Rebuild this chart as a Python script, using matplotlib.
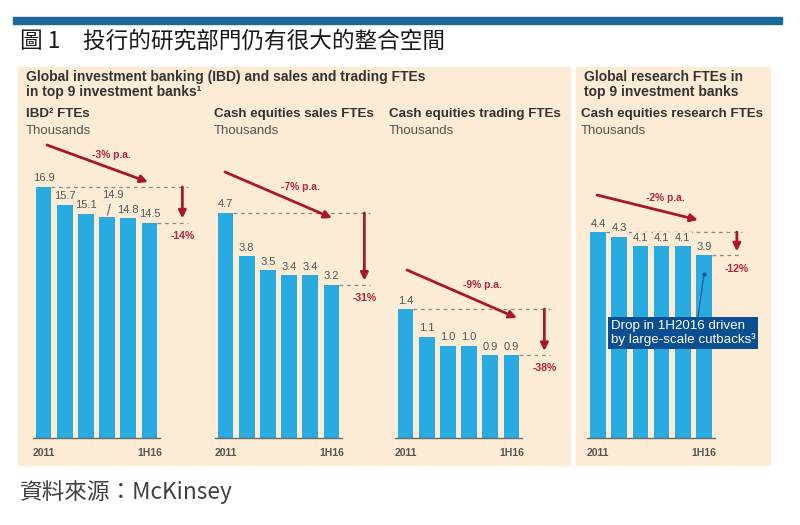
import matplotlib.pyplot as plt
from matplotlib.patches import Rectangle, FancyArrowPatch

# ---- data ----
periods = ['2011', '2012', '2013', '2014', '2015', '1H16']
ibd_ftes = [16.9, 15.7, 15.1, 14.9, 14.8, 14.5]
sales_ftes = [4.7, 3.8, 3.5, 3.4, 3.4, 3.2]
trading_ftes = [1.4, 1.1, 1.0, 1.0, 0.9, 0.9]
research_ftes = [4.4, 4.3, 4.1, 4.1, 4.1, 3.9]
cagr_labels = ['-3% p.a.', '-7% p.a.', '-9% p.a.', '-2% p.a.']
change_labels = ['-14%', '-31%', '-38%', '-12%']
chart_titles = ['IBD² FTEs', 'Cash equities sales FTEs',
                'Cash equities trading FTEs', 'Cash equities research FTEs']
series = [ibd_ftes, sales_ftes, trading_ftes, research_ftes]

# ---- style ----
W, H = 800, 525
BEIGE = '#fcebd5'
BAR = '#29aae1'
RED = '#a8182c'
RED_TXT = '#b3263a'
DARK = '#333333'
GREY = '#555555'
LATIN = ['Liberation Sans', 'DejaVu Sans']
CJK = ['Noto Sans CJK TC', 'DejaVu Sans']

plt.rcParams['font.family'] = LATIN


def fx(x):
    return x / W


def fy(y):
    return 1 - y / H


fig = plt.figure(figsize=(8, 5.25), dpi=100)
fig.patch.set_facecolor('white')

# top rule and panels (pixel boxes, y measured from the top)
for (x0, y0, x1, y1, c) in [(13, 17, 782, 24, '#1b6a9a'),
                            (18, 67, 570, 465, BEIGE),
                            (576, 67, 770, 465, BEIGE)]:
    fig.patches.append(Rectangle((fx(x0), fy(y1)), fx(x1 - x0), (y1 - y0) / H,
                                 transform=fig.transFigure, color=c, zorder=-5))

fig.text(fx(20), fy(41), '圖 1　投行的研究部門仍有很大的整合空間', family=CJK,
         fontsize=16.3, fontweight='medium', color='#1a1a1a', va='center', ha='left')
fig.text(fx(20), fy(492), '資料來源：McKinsey', family=CJK,
         fontsize=16.3, color='#404040', va='center', ha='left')

fig.text(fx(26), fy(70), 'Global investment banking (IBD) and sales and trading FTEs\n'
         'in top 9 investment banks¹', fontsize=10, fontweight='bold', color=DARK,
         va='top', ha='left', linespacing=1.1)
fig.text(fx(584), fy(70), 'Global research FTEs in\ntop 9 investment banks',
         fontsize=10, fontweight='bold', color=DARK, va='top', ha='left',
         linespacing=1.1)

# per chart layout: first bar centre px, px per thousand, title x, trend arrow px, label px
DX = 21.2
layout = [
    dict(c0=43.5, ppu=14.86, tx=26, arrow=((47, 145), (148, 182)), lab=(111, 155)),
    dict(c0=225.5, ppu=47.9, tx=214, arrow=((225, 172), (332, 218)), lab=(300, 187)),
    dict(c0=405.5, ppu=92.1, tx=389, arrow=((407, 270), (517, 318)), lab=(482, 285)),
    dict(c0=598.0, ppu=46.8, tx=581, arrow=((597, 195), (698, 220)), lab=(665, 198)),
]
# raised labels with a leader stroke: (chart, bar) -> offset in points
raised = {(0, 3): (4, 12)}

BASE, TOP = 438, 140
xmin, xmax = -0.6, 7.2
x = list(range(len(periods)))

for k, (vals, lay) in enumerate(zip(series, layout)):
    left = lay['c0'] + xmin * DX
    ax = fig.add_axes([fx(left), fy(BASE), fx((xmax - xmin) * DX), (BASE - TOP) / H])
    ax.set_xlim(xmin, xmax)
    ax.set_ylim(0, (BASE - TOP) / lay['ppu'])
    ax.patch.set_alpha(0)
    for s in ['top', 'left', 'right']:
        ax.spines[s].set_visible(False)
    ax.spines['bottom'].set_bounds(-0.5, 5.5)
    ax.spines['bottom'].set_color('#6b6b6b')
    ax.spines['bottom'].set_linewidth(1)
    ax.set_yticks([])
    ax.set_xticks([x[0], x[-1]], [periods[0], periods[-1]])
    ax.tick_params(axis='x', length=0, pad=7, labelsize=7.5, labelcolor=GREY)
    for t in ax.get_xticklabels():
        t.set_fontweight('bold')

    ax.bar(x, vals, width=0.74, color=BAR, zorder=2)

    # dashed reference lines and total change arrow
    ax.hlines(vals[0], x[0] + 0.37, 6.8, colors='#8a8a8a', linestyles=(0, (3, 3)),
              lw=0.9, zorder=1)
    ax.hlines(vals[-1], x[-1] + 0.37, 6.8, colors='#8a8a8a', linestyles=(0, (3, 3)),
              lw=0.9, zorder=1)
    ax.annotate('', xy=(6.55, vals[-1]), xytext=(6.55, vals[0]),
                arrowprops=dict(arrowstyle='-|>', color=RED, lw=2, mutation_scale=11,
                                shrinkA=0, shrinkB=3))
    ax.annotate(change_labels[k], xy=(6.55, vals[-1]), xytext=(0, -6),
                textcoords='offset points', ha='center', va='top', fontsize=7.6,
                fontweight='bold', color=RED_TXT)

    for i, v in zip(x, vals):
        if (k, i) in raised:
            ax.annotate(f'{v:.1f}', xy=(i, v), xytext=raised[(k, i)],
                        textcoords='offset points', ha='center', va='bottom',
                        fontsize=8, color=GREY,
                        arrowprops=dict(arrowstyle='-', color='#666', lw=0.8,
                                        shrinkA=1, shrinkB=1))
        else:
            ax.annotate(f'{v:.1f}', xy=(i, v), xytext=(0, 2.5),
                        textcoords='offset points', ha='center', va='bottom',
                        fontsize=8, color=GREY, zorder=3,
                        bbox=dict(boxstyle='square,pad=0.1', fc=BEIGE, ec='none'))

    # trend arrow
    (sx, sy), (ex, ey) = lay['arrow']
    fig.add_artist(FancyArrowPatch(
        (fx(sx), fy(sy)), (fx(ex), fy(ey)), transform=fig.transFigure,
        arrowstyle='-|>', mutation_scale=11, color=RED, lw=2, shrinkA=0, shrinkB=0))
    fig.text(fx(lay['lab'][0]), fy(lay['lab'][1]), cagr_labels[k], ha='center',
             va='center', fontsize=7.4, fontweight='bold', color=RED_TXT)

    fig.text(fx(lay['tx']), fy(108), chart_titles[k], fontsize=9.6, fontweight='bold',
             color=DARK, va='top', ha='left')
    fig.text(fx(lay['tx']), fy(125), 'Thousands', fontsize=9.5, color=GREY,
             va='top', ha='left')

    if k == 3:
        ax.annotate('Drop in 1H2016 driven\nby large-scale cutbacks³',
                    xy=(x[-1], 3.5), xytext=(0.6, 2.24), ha='left', va='center',
                    fontsize=9.6, color='white', linespacing=1.12,
                    bbox=dict(boxstyle='square,pad=0.22', fc='#0c4f91', ec='none'),
                    arrowprops=dict(arrowstyle='-', color='#1c5c9c', lw=0.9,
                                    relpos=(0.6, 1.0), shrinkA=0, shrinkB=0),
                    zorder=4)
        ax.plot([x[-1]], [3.5], 'o', ms=2.2, color='#1c5c9c', zorder=4)

fig.savefig('out.png', dpi=100)
